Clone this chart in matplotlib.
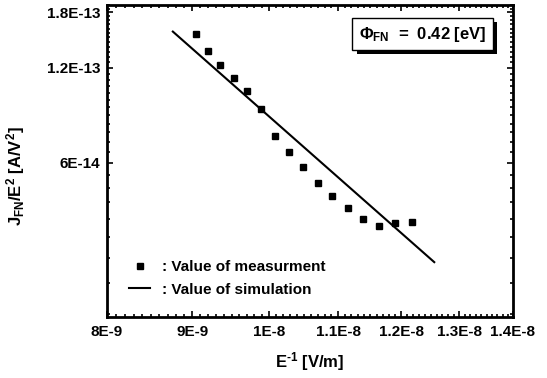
import matplotlib
matplotlib.use("Agg")
import matplotlib.pyplot as plt
import matplotlib.patheffects as pe
from matplotlib.ticker import FixedLocator, FuncFormatter, NullFormatter
import numpy as np

# ---- data ----
meas_x = [9.04e-9, 9.19e-9, 9.35e-9, 9.53e-9, 9.70e-9, 9.89e-9, 10.08e-9, 10.28e-9,
          10.48e-9, 10.70e-9, 10.91e-9, 11.15e-9, 11.39e-9, 11.64e-9, 11.90e-9, 12.18e-9]
meas_y = [1.535e-13, 1.359e-13, 1.227e-13, 1.118e-13, 1.015e-13, 8.90e-14, 7.32e-14, 6.52e-14,
          5.81e-14, 5.20e-14, 4.72e-14, 4.33e-14, 4.00e-14, 3.80e-14, 3.86e-14, 3.90e-14]
sim_x = [8.76e-9, 12.56e-9]
sim_y = [1.565e-13, 2.91e-14]

x_ticks = [8e-9, 9e-9, 1e-8, 1.1e-8, 1.2e-8, 1.3e-8, 1.4e-8]
x_tick_labels = ["8E-9", "9E-9", "1E-8", "1.1E-8", "1.2E-8", "1.3E-8", "1.4E-8"]
y_ticks = [6e-14, 1.2e-13, 1.8e-13]
y_tick_labels = ["6E-14", "1.2E-13", "1.8E-13"]

plt.rcParams['font.family'] = ['Liberation Sans', 'DejaVu Sans']
plt.rcParams['font.weight'] = 'bold'
plt.rcParams['mathtext.default'] = 'regular'

fig = plt.figure(figsize=(5.47, 3.78), dpi=100)
ax = fig.add_axes([107/547, 1-317/378, 406/547, 312/378])

ax.set_xscale('log')
ax.set_yscale('log')
ax.set_xlim(8e-9, 1.4e-8)
ax.set_ylim(1.95e-14, 1.9e-13)

ax.plot(meas_x, meas_y, linestyle='none', marker='s', markersize=4.3, color='black',
        label=': Value of measurment')
ax.plot(sim_x, sim_y, color='black', linewidth=1.5, label=': Value of simulation')

ax.xaxis.set_major_locator(FixedLocator(x_ticks))
ax.xaxis.set_major_formatter(FuncFormatter(lambda v, p: x_tick_labels[x_ticks.index(v)] if v in x_ticks else ""))
ax.xaxis.set_minor_locator(FixedLocator(np.arange(80, 141) * 1e-10))
ax.xaxis.set_minor_formatter(NullFormatter())
ax.yaxis.set_major_locator(FixedLocator(y_ticks))
ax.yaxis.set_major_formatter(FuncFormatter(lambda v, p: y_tick_labels[y_ticks.index(v)] if v in y_ticks else ""))
ax.yaxis.set_minor_locator(FixedLocator(np.arange(4, 39) * 5e-15))
ax.yaxis.set_minor_formatter(NullFormatter())

ax.tick_params(which='both', direction='in', top=True, right=True, width=1.2, labelsize=11)
ax.tick_params(which='major', length=4.5)
ax.tick_params(which='minor', length=2.5)
ax.tick_params(axis='x', which='major', pad=6)
ax.tick_params(axis='y', which='major', pad=5)
for lab in ax.get_xticklabels() + ax.get_yticklabels():
    lab.set_fontweight('bold')
for s in ax.spines.values():
    s.set_linewidth(2)

ax.set_xlabel("E$^{\u2010 1}$ [V/m]", fontsize=12, fontweight='bold', labelpad=8)
ax.set_ylabel(r"J$_{FN}$/E$^{2}$ [A/V$^{2}$]", fontsize=12, fontweight='bold')
ax.yaxis.set_label_coords(-0.197, 0.452)

leg = ax.legend(loc='lower left', bbox_to_anchor=(0.035, 0.041), frameon=False,
                handlelength=1.4, handletextpad=0.8, labelspacing=0.55, borderpad=0,
                prop={'weight': 'bold', 'size': 11})

t = ax.text(0.778, 0.907, r"Φ$_{FN}$  =  0.42 [eV]", transform=ax.transAxes,
            ha='center', va='center', fontsize=12, fontweight='bold',
            bbox=dict(boxstyle='square,pad=0.4', fc='white', ec='black', lw=1))
t.get_bbox_patch().set_path_effects([
    pe.SimplePatchShadow(offset=(3, -3), shadow_rgbFace='black', alpha=1.0),
    pe.Normal()])

fig.savefig("out.png", dpi=100)
